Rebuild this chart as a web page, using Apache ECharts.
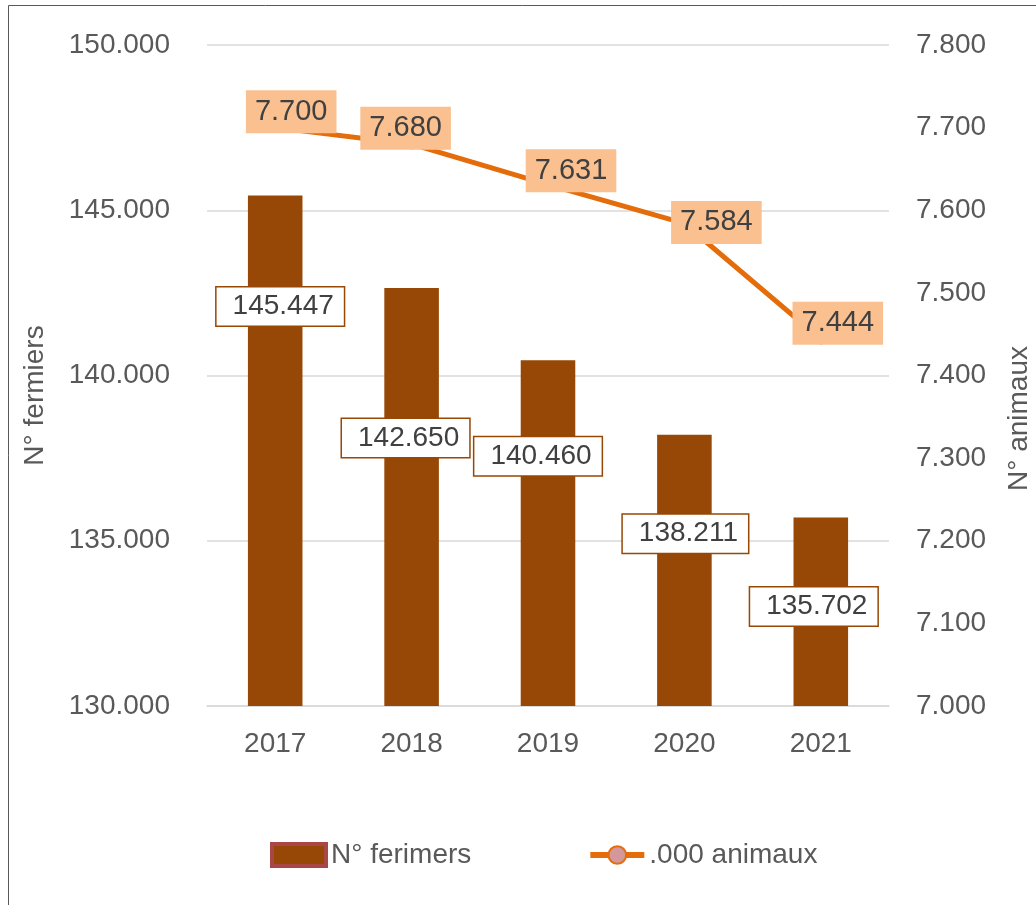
<!DOCTYPE html>
<html>
<head>
<meta charset="utf-8">
<script src="https://cdn.jsdelivr.net/npm/echarts@6/dist/echarts.min.js"></script>
<style>
  html, body { margin: 0; padding: 0; background: #fff; }
  #chart { width: 1036px; height: 905px; }
</style>
</head>
<body>
<div id="chart"></div>
<script>
const years = ['2017', '2018', '2019', '2020', '2021'];
const fermiers = [145447, 142650, 140460, 138211, 135702];
const animaux = [7700, 7680, 7631, 7584, 7444];

// label placement tweaks (like manual moves in the original)
const barLabelDy = [111, 150, 96, 99, 89];
const barLabelDx = [5, -6, -10, 1, -7];
const lineLabelOffsets = [[16, -16], [-6, -16], [23, -14], [32, -1], [17, -16]];

const fontFamily = '"Liberation Sans", Arial, sans-serif';

function dots(v) {
  return String(Math.round(v)).replace(/\B(?=(\d{3})+(?!\d))/g, '.');
}

const chart = echarts.init(document.getElementById('chart'));

const option = {
  animation: false,
  textStyle: { fontFamily: fontFamily },
  graphic: [{
    type: 'rect',
    shape: { x: 8.5, y: 5.5, width: 1100, height: 1000 },
    style: { fill: 'none', stroke: '#595959', lineWidth: 1 },
    silent: true
  }],
  grid: { left: 207, right: 147, top: 45, bottom: 199, outerBoundsMode: 'none' },
  legend: {
    top: 836,
    left: 265,
    itemGap: 116,
    itemWidth: 54,
    itemHeight: 22,
    textStyle: { fontSize: 28, color: '#595959', fontFamily: fontFamily },
    data: [
      { name: 'N° ferimers', icon: 'rect', itemStyle: { borderColor: '#A94747', borderWidth: 4 } },
      { name: '.000 animaux', lineStyle: { width: 6 } }
    ]
  },
  xAxis: {
    type: 'category',
    data: years,
    axisLine: { lineStyle: { color: '#D9D9D9', width: 1.5 } },
    axisTick: { show: false },
    axisLabel: { fontSize: 28, color: '#595959', margin: 24 }
  },
  yAxis: [{
    type: 'value',
    min: 130000,
    max: 150000,
    interval: 5000,
    name: 'N° fermiers',
    nameLocation: 'middle',
    nameRotate: 90,
    nameGap: 158,
    nameTextStyle: { fontSize: 28, color: '#595959', padding: [0, 40, 0, 0] },
    axisLabel: { fontSize: 28, color: '#595959', margin: 37, formatter: dots },
    splitLine: { lineStyle: { color: '#D9D9D9', width: 1.5 } }
  }, {
    type: 'value',
    min: 7000,
    max: 7800,
    interval: 100,
    name: 'N° animaux',
    nameLocation: 'middle',
    nameRotate: 90,
    nameGap: 116,
    nameTextStyle: { fontSize: 28, color: '#595959', padding: [0, 86, 0, 0] },
    axisLabel: { fontSize: 28, color: '#595959', margin: 27, formatter: dots },
    splitLine: { show: false }
  }],
  series: [{
    name: 'N° ferimers',
    type: 'bar',
    yAxisIndex: 0,
    barWidth: '40%',
    itemStyle: { color: '#974706' },
    data: fermiers.map(function (v, i) {
      return {
        value: v,
        label: {
          show: true,
          position: ['50%', barLabelDy[i]],
          offset: [barLabelDx[i], 0],
          align: 'center',
          verticalAlign: 'middle',
          formatter: function (p) { return dots(p.value); },
          fontSize: 28,
          color: '#404040',
          backgroundColor: '#fff',
          borderColor: '#974706',
          borderWidth: 1.5,
          padding: [6, 10, 4, 16]
        }
      };
    })
  }, {
    name: '.000 animaux',
    type: 'line',
    yAxisIndex: 1,
    symbol: 'circle',
    symbolSize: 9,
    itemStyle: { color: '#D4989A', borderColor: '#E46C0A', borderWidth: 1.5 },
    lineStyle: { color: '#E46C0A', width: 5 },
    z: 3,
    data: animaux.map(function (v, i) {
      return {
        value: v,
        label: {
          show: true,
          position: 'inside',
          offset: lineLabelOffsets[i],
          formatter: function (p) { return dots(p.value); },
          fontSize: 29,
          color: '#404040',
          backgroundColor: '#FAC090',
          padding: [8, 9, 6, 9]
        }
      };
    })
  }]
};

chart.setOption(option);
</script>
</body>
</html>
